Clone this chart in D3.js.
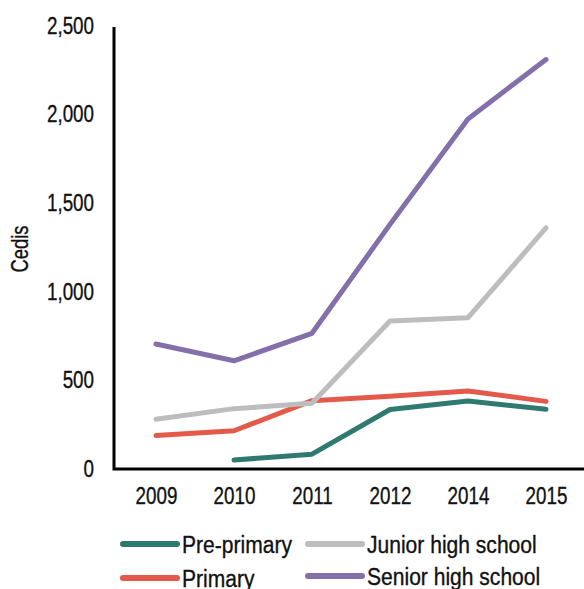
<!DOCTYPE html>
<html>
<head>
<meta charset="utf-8">
<script src="https://cdn.jsdelivr.net/npm/d3@7"></script>
<style>
  html, body { margin: 0; padding: 0; background: #fff; }
  svg { display: block; }
  text { font-family: 'Liberation Sans', Arial, Helvetica, sans-serif; fill: #111; stroke: #111; stroke-width: 0.35px; }
</style>
</head>
<body>
<svg id="chart" width="584" height="589"></svg>
<script>
// School fees by level of education, in cedis
const years = ["2009", "2010", "2011", "2012", "2014", "2015"];
const prePrimary = [null, 45, 78, 330, 378, 332];
const primary = [183, 210, 380, 405, 435, 376];
const juniorHigh = [275, 335, 365, 830, 848, 1355];
const seniorHigh = [700, 605, 760, 1375, 1970, 2305];
const yTicks = [0, 500, 1000, 1500, 2000, 2500];

const series = [
  { name: "Pre-primary", values: prePrimary, color: "#2f7a70" },
  { name: "Primary", values: primary, color: "#e35a4b" },
  { name: "Junior high school", values: juniorHigh, color: "#bdbdbd" },
  { name: "Senior high school", values: seniorHigh, color: "#8370ab" }
];

const svg = d3.select("#chart");
const plotLeft = 114, plotRight = 584, plotTop = 25, plotBottom = 468;
const narrow = 0.8; // horizontal squeeze giving a condensed face

const x = d3.scalePoint().domain(years).range([156, 546]);
const y = d3.scaleLinear().domain([0, 2500]).range([plotBottom, plotTop]);

// Y axis: labels only, frame drawn below
const yAxis = svg.append("g")
  .attr("transform", `translate(${plotLeft},0)`)
  .call(d3.axisLeft(y).tickValues(yTicks).tickFormat(d3.format(",")).tickSize(0));
yAxis.select(".domain").remove();
yAxis.selectAll("text")
  .attr("x", 0)
  .attr("dy", "0.35em")
  .attr("transform", `translate(-20,0) scale(${narrow},1)`)
  .attr("font-size", 23.5);

// X axis labels
const xAxis = svg.append("g")
  .attr("transform", `translate(0,${plotBottom})`)
  .call(d3.axisBottom(x).tickSize(0).tickPadding(19));
xAxis.select(".domain").remove();
xAxis.selectAll("text")
  .attr("transform", `scale(${narrow},1)`)
  .attr("font-size", 23.5);

// Axis frame (left and bottom)
svg.append("path")
  .attr("d", `M${plotLeft},27V${plotBottom + 1}H${plotRight}`)
  .attr("fill", "none")
  .attr("stroke", "#000")
  .attr("stroke-width", 3);

// Y axis title
svg.append("text")
  .attr("transform", `translate(28,249) rotate(-90) scale(${narrow},1)`)
  .attr("text-anchor", "middle")
  .attr("font-size", 23)
  .text("Cedis");

// Lines
const line = d3.line()
  .defined(d => d.v != null)
  .x(d => x(d.year))
  .y(d => y(d.v));

svg.append("g").selectAll("path")
  .data(series)
  .join("path")
  .attr("d", s => line(years.map((yr, i) => ({ year: yr, v: s.values[i] }))))
  .attr("fill", "none")
  .attr("stroke", s => s.color)
  .attr("stroke-width", 5)
  .attr("stroke-linecap", "round")
  .attr("stroke-linejoin", "round");

// Legend, two columns
const legendPos = [
  { x: 123, y: 544 },
  { x: 123, y: 578 },
  { x: 308, y: 544 },
  { x: 308, y: 576 }
];
const legend = svg.append("g").selectAll("g")
  .data(series)
  .join("g")
  .attr("transform", (s, i) => `translate(${legendPos[i].x},${legendPos[i].y})`);
legend.append("line")
  .attr("x1", 0).attr("x2", 54)
  .attr("stroke", s => s.color)
  .attr("stroke-width", 6)
  .attr("stroke-linecap", "round");
legend.append("text")
  .attr("transform", "translate(59,9) scale(0.86,1)")
  .attr("font-size", 24.5)
  .text(s => s.name);
</script>
</body>
</html>
